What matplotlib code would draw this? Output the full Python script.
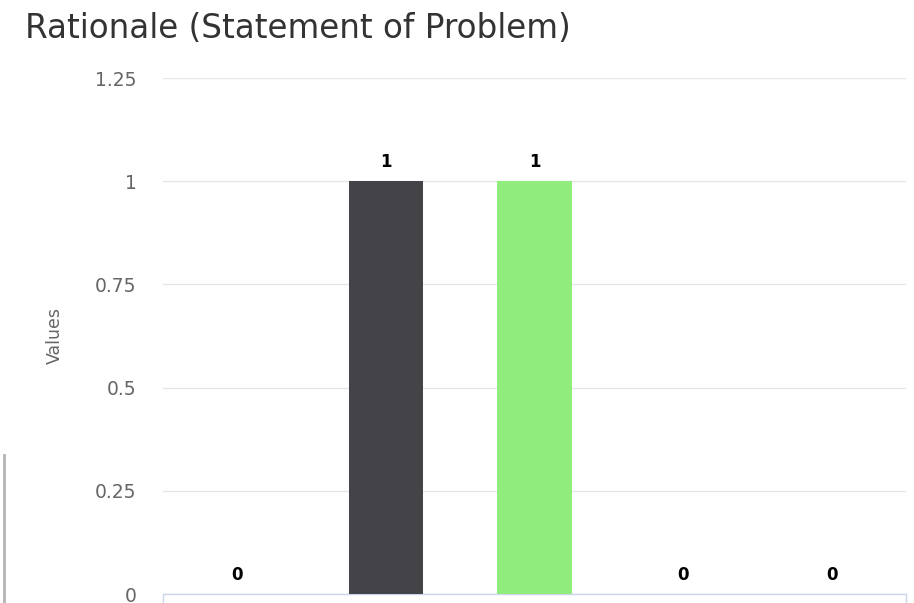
import matplotlib

matplotlib.use("Agg")
import matplotlib.pyplot as plt
from matplotlib.lines import Line2D

# data
categories = ["A", "B", "C", "D", "E"]
values = [0, 1, 1, 0, 0]
colors = ["#7cb5ec", "#434348", "#90ed7d", "#f7a35c", "#8085e9"]
y_ticks = [0, 0.25, 0.5, 0.75, 1, 1.25]
y_labels = ["0", "0.25", "0.5", "0.75", "1", "1.25"]

W, H = 914, 603
fig = plt.figure(figsize=(W / 100, H / 100), dpi=100)
ax = fig.add_axes([163 / W, (H - 594) / H, (906 - 163) / W, (594 - 78) / H])

x = list(range(len(categories)))
ax.bar(x, values, width=0.5, color=colors, zorder=3)
for xi, v in zip(x, values):
    ax.annotate(str(v), (xi, v), xytext=(0, 14), textcoords="offset points",
                ha="center", va="center", fontsize=12, fontweight="bold",
                color="#000000", family="DejaVu Sans", zorder=4)

ax.set_xlim(-0.5, len(categories) - 0.5)
ax.set_ylim(0, 1.25)
ax.set_yticks(y_ticks)
ax.set_yticklabels(y_labels)
ax.grid(axis="y", color="#e6e6e6", linewidth=1, zorder=0)
ax.tick_params(axis="y", length=0, pad=19, labelsize=13.5, labelcolor="#666666")
ax.set_xticks([-0.5, len(categories) - 0.5])
ax.set_xticklabels([])
ax.tick_params(axis="x", length=8, color="#ccd6eb", width=1)
for side in ["top", "right", "left"]:
    ax.spines[side].set_visible(False)
ax.spines["bottom"].set_color("#ccd6eb")
ax.spines["bottom"].set_linewidth(1)
ax.set_ylabel("Values", family="DejaVu Sans Condensed", fontsize=12.5, color="#666666")
ax.yaxis.set_label_coords(-(163 - 64) / (906 - 163), 0.5)

fig.text(25 / W, 1 - 38 / H, "Rationale (Statement of Problem)", fontsize=23.5,
         color="#333333", ha="left", va="baseline", family="DejaVu Sans")

# grey strip at the left edge of the screenshot
fig.add_artist(Line2D([4 / W, 4 / W], [0, (H - 455) / H], transform=fig.transFigure,
                      color="#b4b4b4", linewidth=2))

fig.savefig("out.png", dpi=100)
